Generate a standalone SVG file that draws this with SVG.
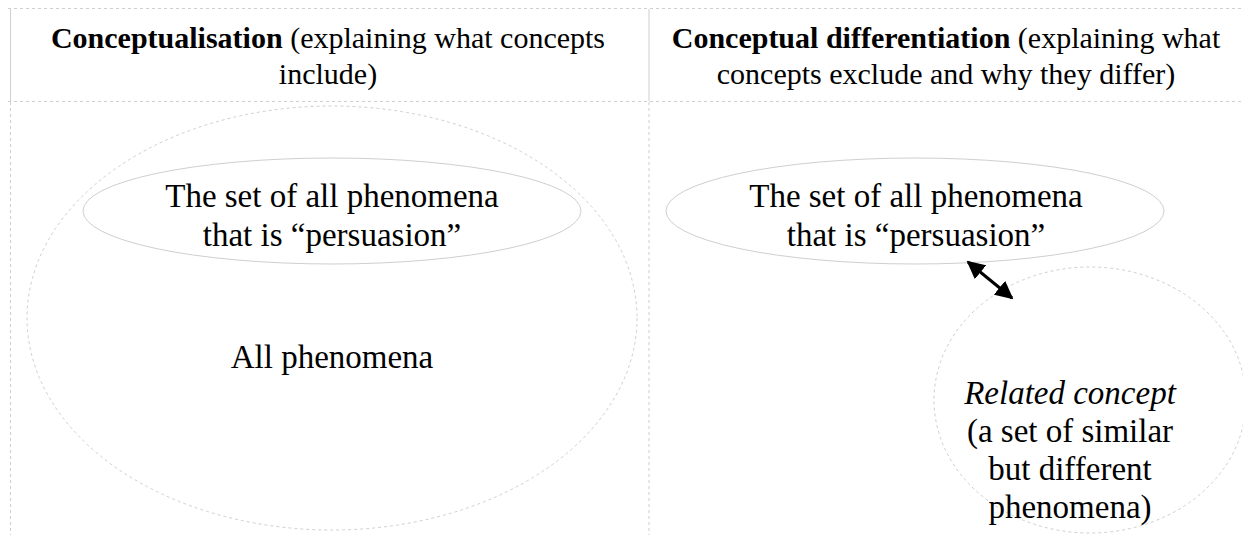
<svg xmlns="http://www.w3.org/2000/svg" width="1243" height="535" viewBox="0 0 1243 535">
<defs>
<style>
.t{font-family:"Liberation Serif","Times New Roman",serif;fill:#000;text-anchor:middle}
.h{font-size:30px}
.b{font-weight:bold}
.n{font-size:33px}
.dash{fill:none;stroke:#cfcfcf;stroke-width:1;stroke-dasharray:3,3}
.solid{fill:none;stroke:#cfcfcf;stroke-width:1}
</style>
<marker id="ah" viewBox="0 0 10 10" refX="9" refY="5" markerWidth="6" markerHeight="6" orient="auto-start-reverse" markerUnits="strokeWidth">
<path d="M0,0 L10,5 L0,10 Z" fill="#000"/>
</marker>
</defs>
<rect width="1243" height="535" fill="#fff"/>
<g id="table">
<line class="dash" x1="8" y1="8.5" x2="1243" y2="8.5"/>
<line class="dash" x1="8" y1="101.5" x2="1243" y2="101.5"/>
<line class="solid" x1="10.5" y1="9" x2="10.5" y2="101"/>
<line class="dash" x1="10.5" y1="102" x2="10.5" y2="535"/>
<line class="solid" x1="649" y1="9" x2="649" y2="101"/>
<line class="dash" x1="649" y1="102" x2="649" y2="535"/>
</g>
<g id="header-left">
<text class="t h" x="328" y="48"><tspan class="b">Conceptualisation</tspan> (explaining what concepts</text>
<text class="t h" x="328" y="84">include)</text>
</g>
<g id="header-right">
<text class="t h" x="946" y="48"><tspan class="b">Conceptual differentiation</tspan> (explaining what</text>
<text class="t h" x="946" y="84">concepts exclude and why they differ)</text>
</g>
<g id="all-phenomena">
<ellipse class="dash" cx="332" cy="318" rx="305" ry="212"/>
<text class="t n" x="332" y="368">All phenomena</text>
</g>
<g id="persuasion-left">
<ellipse class="solid" cx="332" cy="211" rx="249" ry="53"/>
<text class="t n" x="332" y="207">The set of all phenomena</text>
<text class="t n" x="332" y="246">that is “persuasion”</text>
</g>
<g id="persuasion-right">
<ellipse class="solid" cx="915" cy="211" rx="249" ry="53"/>
<text class="t n" x="916" y="207">The set of all phenomena</text>
<text class="t n" x="916" y="246">that is “persuasion”</text>
</g>
<g id="related-concept">
<ellipse class="dash" cx="1090" cy="400" rx="156" ry="133"/>
<text class="t n" x="1070" y="404" font-size="32"><tspan font-style="italic">Related concept</tspan></text>
<text class="t n" x="1070" y="442">(a set of similar</text>
<text class="t n" x="1070" y="480">but different</text>
<text class="t n" x="1070" y="518">phenomena)</text>
</g>
<g id="connectors">
<line x1="968" y1="262" x2="1012" y2="298" stroke="#000" stroke-width="3" marker-start="url(#ah)" marker-end="url(#ah)"/>
</g>
</svg>
